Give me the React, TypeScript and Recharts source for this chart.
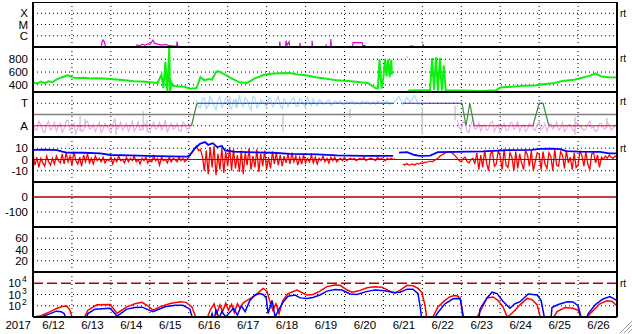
import React from 'react';
import { LineChart, Line, XAxis, YAxis, ReferenceLine } from 'recharts';

const FONT = '"Liberation Sans", Arial, Helvetica, sans-serif';

// x axis: days since 2017-06-12 00:00
const dayLabels = ['6/12', '6/13', '6/14', '6/15', '6/16', '6/17', '6/18', '6/19', '6/20', '6/21', '6/22', '6/23', '6/24', '6/25', '6/26'];
const dayLabelPos = [0.5, 1.5, 2.5, 3.5, 4.5, 5.5, 6.5, 7.5, 8.5, 9.5, 10.5, 11.5, 12.5, 13.5, 14.5];
const dayBreaks = [1, 2, 3, 4, 5, 6, 7, 8, 9, 10, 11, 12, 13, 14];

// panel 1: GOES x-ray flux
const xrayT = [0, 0.12, 0.14, 0.38, 0.39, 0.41, 0.42, 1.74, 1.77, 1.8, 1.83, 1.86, 1.88, 2.65, 2.67, 2.75, 2.8, 2.88, 2.95, 3.0, 3.08, 3.12, 3.2, 3.3, 3.4, 3.5, 3.6, 3.69, 3.7, 3.72, 3.74, 5.05, 5.06, 5.08, 6.32, 6.34, 6.36, 6.48, 6.5, 6.53, 6.58, 6.6, 6.84, 6.86, 6.88, 7.16, 7.17, 7.19, 7.52, 7.53, 7.55, 7.64, 7.65, 7.67, 8.2, 8.22, 8.45, 8.47, 8.53, 8.55, 9.66, 9.68, 9.76, 9.78, 10.0, 10.02, 10.04, 14.29, 14.31, 14.33, 15];
const xrayV = [1.05e-7, 1.05e-7, 5e-8, 5e-8, 1.05e-7, 1.05e-7, 5e-8, 5e-8, 2.5e-7, 4.2e-7, 3e-7, 1.2e-7, 5e-8, 5e-8, 1.5e-7, 1.3e-7, 1.8e-7, 1.4e-7, 2e-7, 1.6e-7, 4e-7, 2.2e-7, 1.8e-7, 1.5e-7, 1.7e-7, 1.3e-7, 1.2e-7, 1.2e-7, 3e-7, 1.2e-7, 5e-8, 5e-8, 1.5e-7, 5e-8, 5e-8, 3e-7, 5e-8, 5e-8, 3.6e-7, 1.5e-7, 3e-7, 5e-8, 5e-8, 2.4e-7, 5e-8, 5e-8, 3.6e-7, 5e-8, 5e-8, 1.7e-7, 5e-8, 5e-8, 5e-7, 5e-8, 5e-8, 2.4e-7, 2.4e-7, 1.3e-7, 1.3e-7, 5e-8, 5e-8, 1.2e-7, 1.2e-7, 5e-8, 5e-8, 1.8e-7, 5e-8, 5e-8, 1.1e-7, 5e-8, 5e-8];

// panel 2: solar wind speed (km/s)
const speedT = [0, 0.1, 0.2, 0.3, 0.4, 0.5, 0.6, 0.7, 0.8, 0.9, 1.0, 1.1, 1.3, 1.5, 1.7, 1.9, 2.0, 2.3, 2.6, 2.9, 3.0, 3.2, 3.3, 3.35, 3.4, 3.45, 3.5, 3.52, 3.55, 3.6, 3.8, 3.9, 4.0, 4.05, 4.2, 4.3, 4.4, 4.5, 4.6, 4.7, 4.75, 4.9, 5.1, 5.3, 5.5, 5.7, 5.9, 6.0, 6.3, 6.6, 6.8, 7.0, 7.3, 7.5, 7.8, 8.1, 8.4, 8.6, 8.8, 8.86, 8.9, 8.95, 9.0, 9.04, 9.08, 9.12, 9.16, 9.2, 9.22, 9.3, 9.6, 9.62, 9.63, 9.64, 9.9, 10.2, 10.25, 10.3, 10.35, 10.4, 10.45, 10.5, 10.55, 10.6, 11.0, 11.5, 11.9, 12.0, 12.3, 12.6, 12.9, 13.1, 13.4, 13.6, 13.9, 14.1, 14.3, 14.44, 14.6, 14.8, 15];
const speedV = [440, 420, 450, 425, 455, 440, 480, 510, 530, 550, 520, 505, 510, 500, 505, 495, 490, 475, 455, 450, 440, 430, 560, 350, 760, 290, 990, 280, 440, 380, 375, 370, 345, 340, 350, 520, 470, 490, 480, 600, 615, 570, 500, 440, 430, 500, 550, 565, 580, 585, 560, 550, 515, 500, 470, 460, 440, 430, 350, 345, 800, 340, 520, 800, 530, 800, 520, 790, 560, null, 830, 830, null, 310, 315, 315, 820, 320, 830, 300, 820, 310, 700, 315, 312, 305, 315, 360, 370, 385, 390, 410, 430, 460, 480, 510, 540, 580, 530, 520, 515];

// panel 3: IMF sector (T = toward = 1, A = away = -1)
const phiAwayT = [0, 4.07, 4.08, 11.33, 12.84, 12.85, 13.25, 15];
const phiAwayV = [-1, -1, null, -1, -1, null, -1, -1];
const phiTowardT = [4.21, 9.25, 9.26, 9.5, 11.02, 11.03, 13.0, 13.1];
const phiTowardV = [1, 1, null, 1, 1, null, 1, 1];
const phiSwitchT = [4.07, 4.21, 4.22, 11.02, 11.12, 11.22, 11.33, 11.34, 12.84, 13.0, 13.01, 13.1, 13.25];
const phiSwitchV = [-1, 1, null, 1, -1, 1, -1, null, -1, 1, null, 1, -1];
// raw phi samples, every 0.1 day, plus the in-between samples (offset 0.05 day)
const phiPink1 = [-0.7, -1.4, -0.9, -1.6, -0.6, -1.2, -1.5, -0.8, -1.3, -0.5, -1.1, -1.7, -0.9, -1.4, -0.6, -1.2, -1.5, -0.7, -1.3, -1.0, -1.6, -0.4, -1.2, -1.4, -0.8, -1.1, -1.5, -0.6, -1.3, -0.9, -1.6, -0.7, -1.2, -1.4, -0.5, -1.1, -1.3, -0.8, -1.5, -0.9, -1.2, -0.7];
const phiPink1b = [-1.3, -0.6, -1.5, -0.9, -1.4, -0.7, -1.1, -1.6, -0.6, -1.4, -0.8, -1.2, -1.5, -0.7, -1.3, -0.9, -1.1, -1.6, -0.8, -1.4, -0.9, -1.3, -0.7, -1.1, -1.5, -0.6, -1.2, -1.4, -0.8, -1.5, -1.0, -1.3, -0.7, -1.1, -1.6, -0.8, -1.2, -1.4, -0.7, -1.3, -1.0];
const phiBlue1 = [1.3, 0.6, 1.5, 0.8, 1.2, 0.4, 1.6, 0.9, 1.4, 0.5, 1.1, 1.7, 0.7, 1.3, 0.4, 1.5, 0.8, 1.2, 0.6, 1.4, 0.9, 1.6, 0.5, 1.2, 1.0, 1.5, 0.7, 1.3, 0.6, 1.1, 1.4, 0.8, 1.2, 1.0, 1.3, 0.9, 1.1, 1.2, 0.9, 1.0, 1.2, 1.1, 0.9, 1.0, 1.15, 1.0, 0.9, 1.1, 1.0, 1.2, 1.0, 1.1];
const phiBlue1b = [0.7, 1.4, 0.5, 1.6, 0.8, 1.3, 0.6, 1.5, 0.7, 1.3, 0.6, 1.0, 1.5, 0.8, 1.6, 0.6, 1.3, 0.9, 1.5, 0.7, 1.3, 0.8, 1.4, 0.7, 1.3, 0.8, 1.4, 0.9, 1.5, 0.8, 1.0, 1.3, 0.9, 1.2, 0.8, 1.2, 1.0, 0.9, 1.2, 1.1, 0.9, 1.0, 1.2, 1.1, 0.9, 1.1, 1.2, 0.95, 1.1, 0.9, 1.05];
const phiBlue2 = [1.2, 1.6, 0.9, 1.5, 1.1, 1.7, 0.8];
const phiPink2 = [-0.5, -1.4, -0.8, -1.6, -0.4, -1.2, -1.5, -0.9, -1.3, -0.6, -1.1, -1.6, -0.8, -1.4, -0.7, -1.2, -1.5, -0.9, -1.3, -1.0, -1.4, -0.6, -1.2, -1.5, -0.8, -1.1, -1.4, -0.7, -1.3, -0.9, -1.5, -0.8, -1.2, -1.3, -0.6, -1.1, -1.4, -0.8, -1.3, -0.9, -1.2, -0.8];
const phiPink2b = [-1.2, -0.6, -1.5, -0.9, -1.3, -0.7, -1.1, -1.4, -0.7, -1.5, -0.9, -1.2, -1.4, -0.8, -1.3, -0.6, -1.1, -1.5, -0.8, -1.3, -0.9, -1.4, -0.8, -1.0, -1.3, -0.7, -1.2, -1.5, -0.9, -1.3, -0.7, -1.1, -1.4, -0.9, -1.2, -1.5, -0.8, -1.2, -0.7, -1.4, -1.0];
const phiGrayT = [1.21, 1.21, 1.22, 1.34, 1.34, 1.35, 2.13, 2.13, 2.14, 2.83, 2.83, 2.84, 2.93, 2.93, 2.94, 5.06, 5.06, 5.07, 5.21, 5.21, 5.22, 6.42, 6.42, 6.43, 8.14, 8.14, 8.15, 10.0, 10.0, 10.01, 10.84, 10.84, 10.85, 13.92, 13.92, 13.93, 14.74, 14.74];
const phiGrayV = [-0.1, -1.5, null, -0.4, -1.2, null, -0.8, -1.8, null, 0.3, -1.4, null, -0.5, -1.6, null, 1.6, 0.8, null, 1.4, 0.6, null, 0, -1.5, null, 0.5, -0.3, null, 0.6, -1.8, null, 0.8, -0.5, null, -0.2, -1.8, null, -0.3, -1.2];

// panel 4: IMF Bt and Bz (nT)
const btT = [0, 0.3, 0.62, 0.75, 0.87, 1.3, 1.72, 2.0, 2.5, 2.93, 3.5, 3.96, 4.03, 4.16, 4.29, 4.42, 4.5, 4.62, 4.73, 4.85, 4.93, 5.14, 5.5, 6.16, 6.6, 7.3, 7.8, 8.5, 9.25, 9.3, 9.4, 9.61, 9.8, 9.94, 10.2, 10.4, 10.89, 11.2, 11.56, 12.2, 12.8, 13.02, 13.3, 13.54, 13.7, 14.0, 14.56, 14.8, 15];
const btV = [8.6, 8.8, 8.3, 7, 6.2, 6, 5.5, 4, 3.6, 3.2, 2.8, 2.6, 4, 10, 14, 15.5, 13, 14.5, 11, 12, 8, 7, 6.5, 6, 5, 4.5, 3.6, 3.2, 3.3, null, 6.2, 6.5, 4, 3.3, 3.5, 6.5, 6.8, 7, 7.2, 8.3, 8.6, 9.4, 9.6, 9.2, 7.5, 7, 6.8, 5.5, 5.5];
// Bz every 0.05 day from 6/12 00:00
const bzV = [
  4, -5, 2, -7, 1, -3, -6, 3, -2, -5, 1, -4, 3, -1,
  -3, 5, -4, 6, -2, 3, -5, 7, -1, -4, 2, -6, 4, -2, 5, -3, 1, -4, 3, -1,
  1, -2, 2, -3, 0, -1, 2, -4, 1, -2, 3, -1, 0, -3, 2, -2, 1, -1, 3, -2, 0, -4, 1, -1, 2, -3, 0, -2, 3, -1, 1, -5, 2, -1, 0, -3, 2, -2, 1, 0, -2, 2, -1, 1, -2, 0,
  2, 5, 7, 10, 12, 8, 9, 3,
  -10, 8, -13, 11, -7, 12, -14, 5, -9, 10, -12, 7, -6, 11, -10, 9, -8, 4, -11, 8, -13, 6, -5, 10, -9, 3, -7, 9, -11, 5, -6, 8, -9, 2, -8, 7, -4, 6,
  -5, 4, -6, 3, -3, 5, -4, 6, -2, 3, -5, 2, -4, 4, -3, 1, -2, 4, -3, 2, -4, 1, -1, 3, -2, 1, -3, 2, -1, 2, -2, 0, 1, -1, 2, -1, 0, 1,
  0, 1, -1, 0, 1, 0, 2, -1, 0, 1, 1, 0, -1, 2, 0, 1, 0, -1, 1, 0, 1, 0, 0.5, null,
  null, null,
  -4, -5, -3.5, -5, -4.5, -4, -5, -3.5, -4, -3, -3.5, -2.5,
  -2.5, -2, -1.5, -2, -1, 0, 1, 3,
  4, 5, 6, 7, 7, 6, 5, 3,
  1, -1, -2, 1, 2, -2, -3, 0, 1, -4,
  6, -9, 4, -7, 8, -3, -10, 5, 7, -6, -4, 8, 3, -9, 9, -5, -7, 6, 2, -10, 7, -8, 5, -3, -9, 8, 4, -6, 8, -10, -2, 6, 5, -9, 7, -4, -8, 6, 3, -10, 9, -5, -6, 7, 4, -8, 8, -3, 2, -9, 6, -7, -5, 8, 3, -6, 7, -4, -9, 5, 6, -3, 4, -7,
  2, 0, 3, 1, 4, 2, 1, 3, 2,
];

// panel 5 and 6 tick values
const dstTicks = [0, -100];
const kpTicks = [20, 40, 60];

// panel 7: particle flux (red / blue)
const fluxRedT = [0, 0.18, 0.44, 0.62, 0.77, 0.87, 0.95, 1.03, 1.28, 1.41, 1.64, 1.98, 2.16, 2.41, 2.62, 2.8, 2.95, 3.08, 3.26, 3.52, 3.78, 3.93, 4.08, 4.21, 4.45, 4.55, 4.65, 4.72, 4.8, 4.87, 4.95, 5.02, 5.1, 5.17, 5.25, 5.32, 5.4, 5.5, 5.7, 5.91, 6.01, 6.09, 6.16, 6.24, 6.32, 6.42, 6.55, 6.78, 6.94, 7.04, 7.19, 7.37, 7.55, 7.76, 7.89, 8.07, 8.19, 8.35, 8.58, 8.78, 8.96, 9.17, 9.3, 9.43, 9.61, 9.76, 9.89, 9.99, 10.07, 10.12, 10.27, 10.4, 10.58, 10.71, 10.84, 10.92, 10.99, 11.05, 11.06, 11.4, 11.41, 11.53, 11.66, 11.82, 11.94, 12.07, 12.18, 12.25, 12.38, 12.51, 12.69, 12.82, 12.95, 13.05, 13.33, 13.46, 13.67, 13.87, 14.0, 14.1, 14.23, 14.36, 14.56, 14.74, 14.87, 15];
const fluxRedV = [10, 12, 30, 60, 90, 95, 40, 5, 5, 40, 120, 130, 22, 80, 150, 200, 100, 40, 80, 160, 230, 200, 80, 5, 5, 40, 150, 20, 120, 30, 170, 40, 130, 25, 150, 60, 180, 300, 800, 3500, 2000, 200, 40, 150, 20, 300, 1200, 2500, 1300, 900, 1000, 2000, 5000, 7000, 6500, 2500, 1600, 2000, 4000, 5000, 4500, 2000, 1300, 2500, 6500, 6000, 3500, 1500, 100, 5, 10, 80, 300, 650, 800, 700, 300, 5, null, 5, 10, 60, 500, 600, 300, 85, 10, 15, 40, 120, 450, 350, 120, 5, 5, 30, 70, 60, 40, 5, 10, 30, 150, 280, 250, 95];
const fluxBlueT = [0, 0.2, 0.44, 0.6, 0.72, 0.8, 0.87, 1.34, 1.41, 1.59, 1.98, 2.16, 2.41, 2.62, 2.8, 3.08, 3.39, 3.65, 3.85, 4.03, 4.11, 4.55, 4.6, 4.65, 4.7, 4.78, 4.85, 4.95, 5.05, 5.15, 5.25, 5.35, 5.45, 5.57, 5.7, 5.83, 5.91, 5.99, 6.04, 6.14, 6.22, 6.32, 6.42, 6.55, 6.73, 6.86, 7.04, 7.19, 7.37, 7.55, 7.76, 7.94, 8.14, 8.32, 8.58, 8.78, 9.04, 9.25, 9.43, 9.61, 9.76, 9.89, 9.94, 9.99, 10.27, 10.38, 10.58, 10.79, 10.97, 11.02, 11.07, 11.08, 11.45, 11.48, 11.66, 11.79, 11.92, 12.07, 12.25, 12.38, 12.51, 12.72, 12.84, 12.95, 13.05, 13.15, 13.3, 13.33, 13.49, 13.72, 13.87, 14.0, 14.1, 14.2, 14.26, 14.44, 14.64, 14.82, 15];
const fluxBlueV = [8, 10, 20, 33, 30, 20, 5, 5, 20, 50, 60, 12, 50, 70, 75, 30, 80, 110, 110, 50, 5, 5, 20, 5, 40, 8, 30, 10, 25, 60, 15, 100, 30, 300, 900, 1200, 1000, 500, 20, 300, 10, 50, 200, 700, 900, 500, 450, 550, 900, 2000, 2800, 2500, 1100, 1000, 1900, 2500, 2200, 1500, 1600, 3000, 3000, 1200, 100, 5, 5, 20, 150, 420, 450, 50, 5, null, 5, 50, 500, 1600, 1200, 250, 60, 150, 230, 1100, 1000, 900, 300, 5, 5, 70, 130, 230, 220, 100, 5, 5, 20, 120, 400, 650, 280];

type Pt = { t: number; v: number | null };
const zip = (ts: number[], vs: (number | null)[]): Pt[] => ts.map((t, i) => ({ t, v: vs[i] }));
const stepped = (t0: number, vs: (number | null)[], step = 0.1): Pt[] =>
  vs.map((v, i) => ({ t: +(t0 + i * step).toFixed(3), v }));
const merged = (a: Pt[], b: Pt[]) => [...a, ...b].sort((p, q) => p.t - q.t);

const txt = (x: number, y: number, s: string, anchor = 'end', size = 11.5) => (
  <text x={x} y={y} textAnchor={anchor} fontSize={size} fontFamily={FONT} fill="#000">{s}</text>
);

const dotted = { stroke: '#000', strokeDasharray: '1 3', strokeWidth: 1 };

function panel(
  key: string,
  top: number,
  domain: [number, number],
  ticks: number[],
  tickLabel: (v: number, y: number) => React.ReactNode,
  grid: number[],
  series: React.ReactNode[],
  opts: { log?: boolean; bottomAxis?: boolean } = {},
) {
  const h = opts.bottomAxis ? 63 : 45;
  return (
    <div key={key} style={{ position: 'absolute', left: 0, top }}>
      <LineChart width={633} height={h} margin={{ top: 0, right: 16, bottom: 0, left: 0 }}>
        <XAxis
          type="number"
          dataKey="t"
          domain={[0, 15]}
          allowDataOverflow
          hide={!opts.bottomAxis}
          height={18}
          ticks={dayLabelPos}
          interval={0}
          axisLine={false}
          tickLine={false}
          tick={(p: any) => (
            <g>{txt(p.x + 1, 57, dayLabels[Math.floor(p.payload.value)], 'middle')}</g>
          )}
        />
        <YAxis
          type="number"
          scale={opts.log ? 'log' : 'auto'}
          domain={domain}
          allowDataOverflow
          width={33}
          ticks={ticks}
          interval={0}
          axisLine={false}
          tickLine={false}
          tick={(p: any) => <g>{tickLabel(p.payload.value, p.y)}</g>}
        />
        {dayBreaks.map((d) => <ReferenceLine key={'vx' + d} x={d} {...dotted} />)}
        {grid.map((g) => <ReferenceLine key={'gy' + g} y={g} {...dotted} />)}
        {series}
        <ReferenceLine y={domain[0]} stroke="#000" strokeWidth={2} />
        <ReferenceLine y={domain[1]} stroke="#000" strokeWidth={2} />
        <ReferenceLine x={0} stroke="#000" strokeWidth={2} />
        <ReferenceLine x={15} stroke="#000" strokeWidth={2} />
      </LineChart>
    </div>
  );
}

const line = (key: string, data: Pt[], color: string, width = 1) => (
  <Line
    key={key}
    data={data}
    dataKey="v"
    stroke={color}
    strokeWidth={width}
    dot={false}
    activeDot={false}
    isAnimationActive={false}
    type="linear"
  />
);

const pow10 = (v: number, y: number) => {
  const e = Math.round(Math.log10(v));
  return (
    <>
      {txt(21, y + 4, '10')}
      {txt(22, y - 1, String(e), 'start', 8.5)}
    </>
  );
};

export default function App() {
  const rtY = [17, 62, 105, 152, 287];
  return (
    <div style={{ position: 'absolute', left: 0, top: 0, width: 633, height: 334, background: '#fff', fontFamily: FONT }}>
      {panel('xray', 2, [1e-7, 1e-3], [1e-4, 1e-5, 1e-6],
        (v, y) => txt(28, y + 4, v > 5e-5 ? 'X' : v > 5e-6 ? 'M' : 'C'),
        [1e-4, 1e-5, 1e-6],
        [line('xr', zip(xrayT, xrayV), '#e000e0', 1.2)],
        { log: true })}
      {panel('speed', 47, [288, 992], [800, 600, 400],
        (v, y) => txt(28, y + 4, String(v)),
        [800, 600, 400],
        [line('sp', zip(speedT, speedV), '#10ee10', 2)])}
      {panel('phi', 92, [-2, 2], [1, -1],
        (v, y) => txt(28, y + 4, v > 0 ? 'T' : 'A'),
        [1, -1],
        [
          line('gr', zip(phiGrayT, phiGrayV), '#cccccc', 1.5),
          line('p1', merged(stepped(0, phiPink1), stepped(0.05, phiPink1b)), '#f2aaf0', 1.2),
          line('b1', merged(stepped(4.2, phiBlue1), stepped(4.25, phiBlue1b)), '#a8e0f6', 1.2),
          line('b2', stepped(9.3, phiBlue2), '#a8e0f6', 1.2),
          line('p2', merged(stepped(10.9, phiPink2), stepped(10.95, phiPink2b)), '#f2aaf0', 1.2),
          <ReferenceLine key="zero" y={0} stroke="#808080" strokeWidth={1.5} />,
          line('sa', zip(phiAwayT, phiAwayV), '#e01818', 1.2),
          line('st', zip(phiTowardT, phiTowardV), '#2828ff', 1.2),
          line('ss', zip(phiSwitchT, phiSwitchV), '#3c8c3c', 1.2),
        ])}
      {panel('bfield', 137, [-20, 20], [10, 0, -10],
        (v, y) => txt(28, y + 4, String(v)),
        [10, -10],
        [
          line('bz', stepped(0, bzV, 0.05), '#ff0000', 1.3),
          line('bt', zip(btT, btV), '#0000ff', 1.8),
          <ReferenceLine key="bz0" y={0} stroke="#b00000" strokeWidth={1} />,
        ])}
      {panel('dst', 182, [-200, 100], dstTicks,
        (v, y) => txt(28, y + 4, String(v)),
        [-100],
        [<ReferenceLine key="d0" y={0} stroke="#a00000" strokeWidth={1.5} />])}
      {panel('kp', 227, [0, 80], kpTicks,
        (v, y) => txt(28, y + 4, String(v)),
        kpTicks,
        [])}
      {panel('flux', 272, [10, 1e5], [1e4, 1e3, 1e2],
        pow10,
        [1e3, 1e2],
        [
          <ReferenceLine key="thr" y={1e4} stroke="#b00000" strokeWidth={1.5} strokeDasharray="10 4" />,
          line('fr', zip(fluxRedT, fluxRedV), '#ff0000', 1.5),
          line('fb', zip(fluxBlueT, fluxBlueV), '#0000ff', 1.5),
        ],
        { log: true, bottomAxis: true })}
      <svg width={633} height={334} style={{ position: 'absolute', left: 0, top: 0, pointerEvents: 'none' }}>
        {txt(31, 329, '2017', 'end')}
        {rtY.map((y) => <g key={y}>{txt(620, y, 'rt', 'start', 10)}</g>)}
        <g stroke="#9a9a9a" strokeWidth={1}>
          <line x1={620} y1={333} x2={632} y2={321} />
          <line x1={624} y1={333} x2={632} y2={325} />
          <line x1={628} y1={333} x2={632} y2={329} />
        </g>
      </svg>
    </div>
  );
}
